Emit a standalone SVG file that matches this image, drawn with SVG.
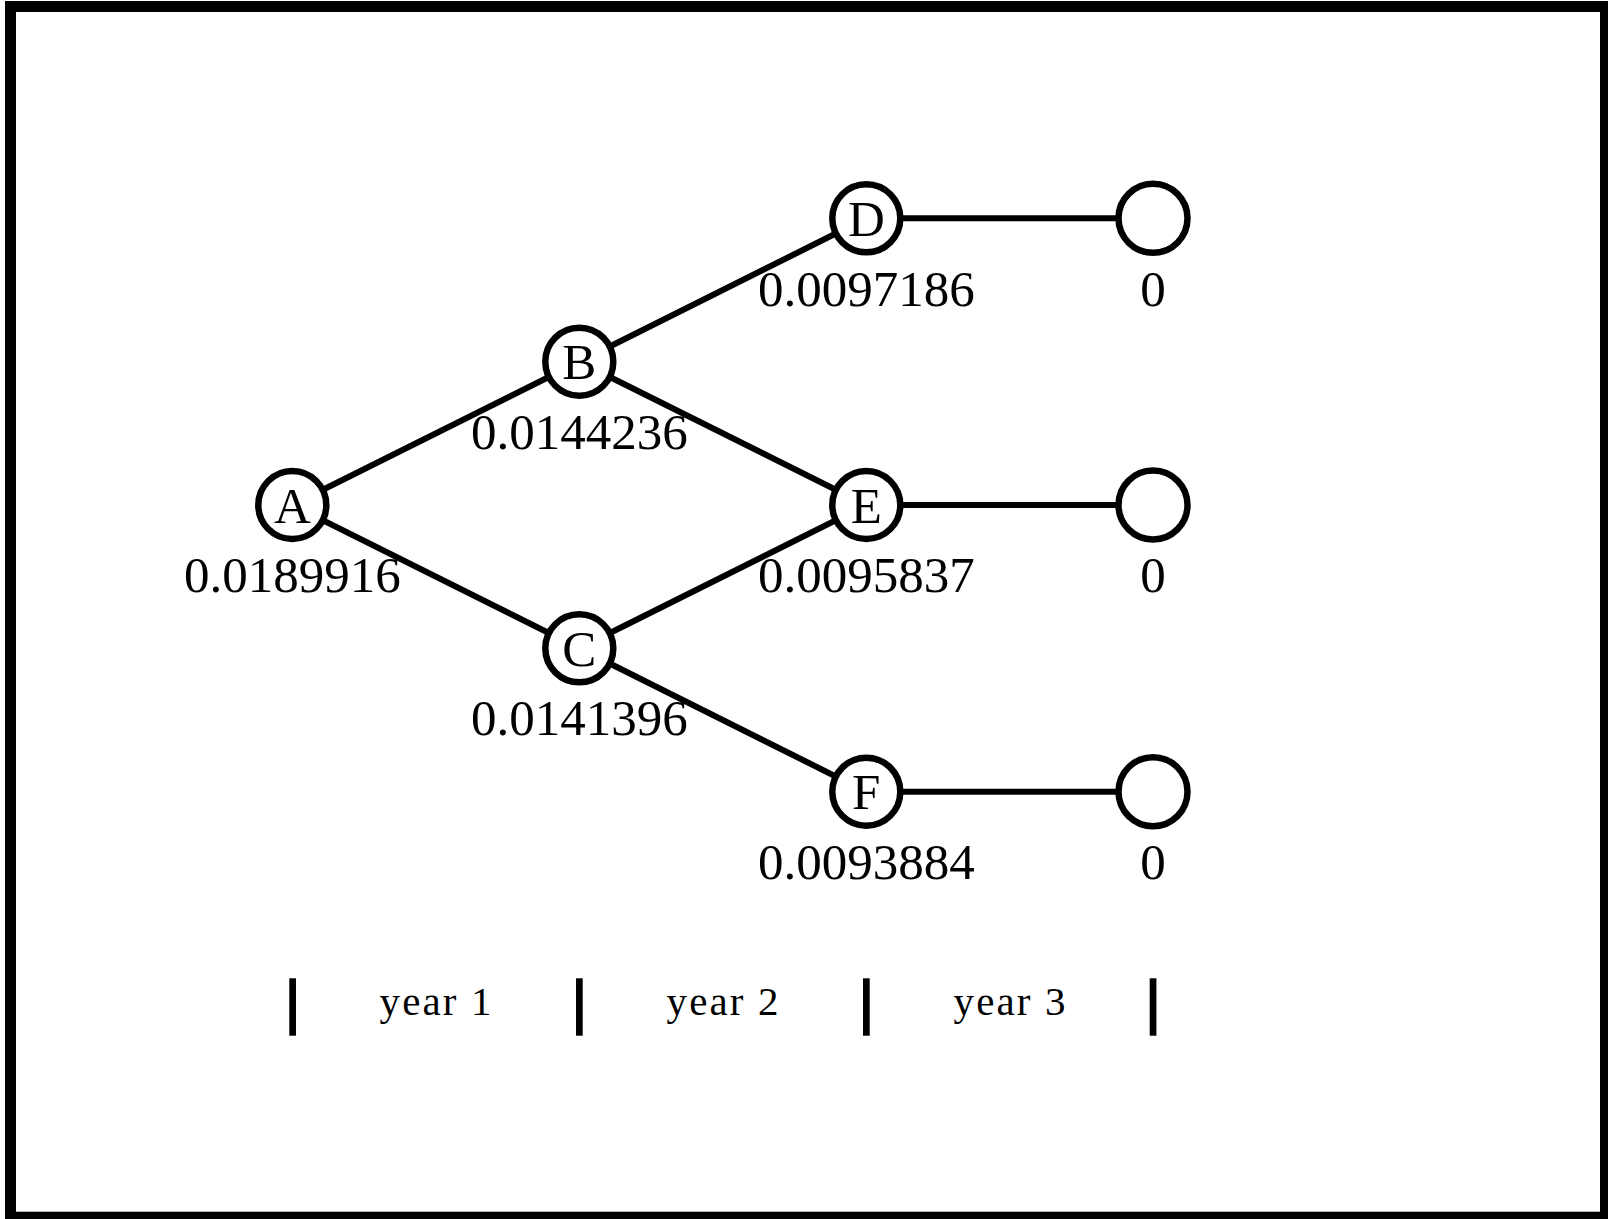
<svg xmlns="http://www.w3.org/2000/svg" width="1608" height="1219" viewBox="0 0 1608 1219">
<style>
.frame{fill:none;stroke:#000;stroke-width:11}
.edge{stroke:#000;stroke-width:6;fill:none}
.node circle{fill:#fff;stroke:#000;stroke-width:6.5}
.lbl{font-family:"Liberation Serif","Times New Roman",serif;font-size:51px;fill:#000;text-anchor:middle}
.yr{font-family:"Liberation Serif","Times New Roman",serif;font-size:41px;fill:#000;text-anchor:middle}
.bar{fill:#000}
</style>
<rect width="1608" height="1219" fill="#fff"/>
<rect class="frame" x="10.5" y="6.5" width="1595" height="1210.7"/>
<g id="connectors">
<line class="edge" x1="292.3" y1="505" x2="579.3" y2="361.7"/>
<line class="edge" x1="292.3" y1="505" x2="579.3" y2="648.3"/>
<line class="edge" x1="579.3" y1="361.7" x2="866.3" y2="218.3"/>
<line class="edge" x1="579.3" y1="361.7" x2="866.3" y2="505"/>
<line class="edge" x1="579.3" y1="648.3" x2="866.3" y2="505"/>
<line class="edge" x1="579.3" y1="648.3" x2="866.3" y2="791.7"/>
<line class="edge" x1="866.3" y1="218.3" x2="1153" y2="218.3"/>
<line class="edge" x1="866.3" y1="505" x2="1153" y2="505"/>
<line class="edge" x1="866.3" y1="791.7" x2="1153" y2="791.7"/>
</g>
<g id="node-A" class="node"><circle cx="292.3" cy="505" r="34"/><text class="lbl" x="292.3" y="522.5">A</text><text class="lbl" x="292.3" y="591.5">0.0189916</text></g>
<g id="node-B" class="node"><circle cx="579.3" cy="361.7" r="34"/><text class="lbl" x="579.3" y="379.2">B</text><text class="lbl" x="579.3" y="448.5">0.0144236</text></g>
<g id="node-C" class="node"><circle cx="579.3" cy="648.3" r="34"/><text class="lbl" x="579.3" y="665.8">C</text><text class="lbl" x="579.3" y="735">0.0141396</text></g>
<g id="node-D" class="node"><circle cx="866.3" cy="218.3" r="34"/><text class="lbl" x="866.3" y="235.8">D</text><text class="lbl" x="866.3" y="306">0.0097186</text></g>
<g id="node-E" class="node"><circle cx="866.3" cy="505" r="34"/><text class="lbl" x="866.3" y="522.5">E</text><text class="lbl" x="866.3" y="591.7">0.0095837</text></g>
<g id="node-F" class="node"><circle cx="866.3" cy="791.7" r="34"/><text class="lbl" x="866.3" y="809.2">F</text><text class="lbl" x="866.3" y="878.5">0.0093884</text></g>
<g id="node-G" class="node"><circle cx="1153" cy="218.3" r="34.5"/><text class="lbl" x="1153" y="306">0</text></g>
<g id="node-H" class="node"><circle cx="1153" cy="505" r="34.5"/><text class="lbl" x="1153" y="591.7">0</text></g>
<g id="node-I" class="node"><circle cx="1153" cy="791.7" r="34.5"/><text class="lbl" x="1153" y="878.5">0</text></g>
<g id="timeline">
<rect class="bar" x="289.3" y="978.3" width="6.7" height="57.4"/>
<rect class="bar" x="576" y="978.3" width="6.7" height="57.4"/>
<rect class="bar" x="863" y="978.3" width="6.7" height="57.4"/>
<rect class="bar" x="1149.7" y="978.3" width="6.7" height="57.4"/>
<text class="yr" x="435.5" y="1015" textLength="112" lengthAdjust="spacing">year 1</text>
<text class="yr" x="722.5" y="1015" textLength="112" lengthAdjust="spacing">year 2</text>
<text class="yr" x="1009.5" y="1015" textLength="112" lengthAdjust="spacing">year 3</text>
</g>
</svg>
